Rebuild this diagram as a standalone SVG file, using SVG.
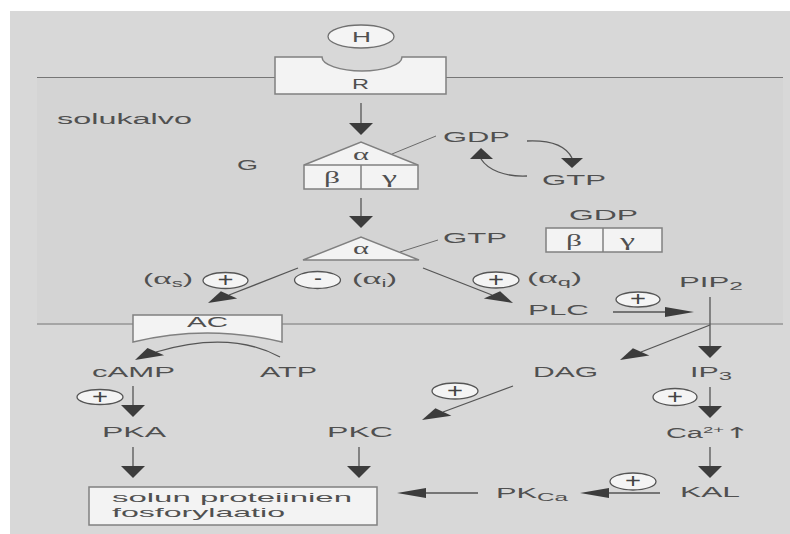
<svg xmlns="http://www.w3.org/2000/svg" width="790" height="534" viewBox="0 0 790 534">
<style>
text{font-family:"Liberation Sans",Arial,sans-serif;font-size:14px;fill:#505050}
.gr{font-family:"Liberation Serif","DejaVu Serif",serif;font-size:16px}
.shape{fill:#f3f3f3;stroke:#808080;stroke-width:1.5}
.mem{stroke:#767676;stroke-width:1;fill:none}
.ln{stroke:#555;stroke-width:1.3;fill:none}
.thin{stroke:#6a6a6a;stroke-width:1;fill:none}
.ah{fill:#3c3c3c;stroke:none}
.op{fill:#f4f4f4;stroke:#555;stroke-width:1.3}
.sign{font-size:20px;fill:#444;text-anchor:middle}
.box{font-size:13px}
</style>
<rect x="0" y="0" width="790" height="534" fill="#ffffff"/>
<rect x="10" y="11" width="780" height="523" fill="#d8d8d8"/>
<rect x="37" y="78" width="746" height="247" fill="#d4d4d4"/>
<g id="membrane">
<line class="mem" x1="37" y1="77.5" x2="275" y2="77.5"/>
<line class="mem" x1="446" y1="77.5" x2="783" y2="77.5"/>
<line class="mem" x1="37" y1="324" x2="133" y2="324"/>
<line class="mem" x1="282" y1="324" x2="783" y2="324"/>
</g>
<text x="57" y="124" textLength="135" lengthAdjust="spacingAndGlyphs">solukalvo</text>
<g id="connectors">
<line class="ln" x1="361" y1="103" x2="361" y2="123"/><polygon class="ah" points="349,123 373,123 361,135"/>
<line class="ln" x1="361" y1="198" x2="361" y2="216"/><polygon class="ah" points="349,216 373,216 361,228"/>
<line class="thin" x1="392" y1="154" x2="436" y2="136"/>
<line class="thin" x1="400" y1="252" x2="438" y2="240"/>
<path class="ln" d="M527,141 C550,140 566,146 572,158"/><polygon class="ah" points="561,158 583,158 572,168"/>
<path class="ln" d="M527,176 C505,177 488,170 481,159"/><polygon class="ah" points="470,159 493,159 481,148"/>
<line class="ln" x1="298" y1="268" x2="229" y2="295"/><polygon class="ah" points="208,303 237.2,298.5 220.9,291.2"/>
<line class="ln" x1="423" y1="268" x2="492" y2="295"/><polygon class="ah" points="513,303 483.8,298.5 500.1,291.2"/>
<line class="ln" x1="613" y1="312" x2="666" y2="312"/><polygon class="ah" points="665,307 665,317 694,312"/>
<line class="ln" x1="710" y1="297" x2="710" y2="346"/><polygon class="ah" points="698,346 722,346 710,358"/>
<line class="ln" x1="710" y1="325" x2="641" y2="352"/><polygon class="ah" points="620,360 649.3,355.5 632.9,348.2"/>
<path class="ln" d="M280,357 Q230,330 156,352"/><polygon class="ah" points="135,360 164.1,355.3 147.5,348.1"/>
<line class="ln" x1="133" y1="386" x2="133" y2="405"/><polygon class="ah" points="121,405 145,405 133,417"/>
<line class="ln" x1="513" y1="386" x2="443" y2="412"/><polygon class="ah" points="422,420 451.4,415.7 435.4,408.3"/>
<line class="ln" x1="710" y1="387" x2="710" y2="406"/><polygon class="ah" points="698,406 722,406 710,418"/>
<line class="ln" x1="710" y1="447" x2="710" y2="466"/><polygon class="ah" points="698,466 722,466 710,478"/>
<line class="ln" x1="133" y1="447" x2="133" y2="466"/><polygon class="ah" points="121,466 145,466 133,478"/>
<line class="ln" x1="359" y1="447" x2="359" y2="466"/><polygon class="ah" points="347,466 371,466 359,478"/>
<line class="ln" x1="660" y1="493" x2="608" y2="493"/><polygon class="ah" points="609,488 609,498 580,493"/>
<line class="ln" x1="478" y1="493" x2="425" y2="493"/><polygon class="ah" points="426,488 426,498 397,493"/>
</g>
<g id="H">
<ellipse class="op" cx="361" cy="36.5" rx="33" ry="11.5" style="stroke:#707070"/>
<text x="352" y="42" font-size="15" textLength="19" lengthAdjust="spacingAndGlyphs">H</text>
</g>
<g id="R">
<path class="shape" d="M275,57 H322 A40,14 0 0 0 402,57 H446 V94 H275 Z"/>
<text x="352" y="89" font-size="16" textLength="17" lengthAdjust="spacingAndGlyphs">R</text>
</g>
<g id="G">
<text x="237" y="170" textLength="21" lengthAdjust="spacingAndGlyphs">G</text>
<polygon class="shape" points="304,165 361,142 418,165 418,189 304,189"/>
<line class="shape" x1="304" y1="165" x2="418" y2="165"/>
<line class="shape" x1="361" y1="165" x2="361" y2="189"/>
<text class="gr" x="353" y="160" textLength="16" lengthAdjust="spacingAndGlyphs">α</text>
<text class="gr" x="324" y="183" textLength="16" lengthAdjust="spacingAndGlyphs">β</text>
<text class="gr" x="382" y="183" textLength="15" lengthAdjust="spacingAndGlyphs">γ</text>
</g>
<g id="GDP1"><text x="443" y="142" textLength="67" lengthAdjust="spacingAndGlyphs">GDP</text></g>
<g id="GTP1"><text x="542" y="185" textLength="64" lengthAdjust="spacingAndGlyphs">GTP</text></g>
<g id="GDP2"><text x="569" y="220" textLength="69" lengthAdjust="spacingAndGlyphs">GDP</text></g>
<g id="betagamma">
<rect class="shape" x="546" y="228" width="116" height="24"/>
<line class="shape" x1="603" y1="228" x2="603" y2="252"/>
<text class="gr" x="566" y="246" textLength="16" lengthAdjust="spacingAndGlyphs">β</text>
<text class="gr" x="620" y="246" textLength="15" lengthAdjust="spacingAndGlyphs">γ</text>
</g>
<g id="alpha">
<polygon class="shape" points="303,260 361,237 419,260"/>
<text class="gr" x="353" y="254" textLength="16" lengthAdjust="spacingAndGlyphs">α</text>
</g>
<g id="GTP2"><text x="443" y="243" textLength="64" lengthAdjust="spacingAndGlyphs">GTP</text></g>
<g id="alphas"><text x="143" y="284" textLength="50" lengthAdjust="spacingAndGlyphs">(<tspan class="gr">α</tspan><tspan font-size="10" dy="3">s</tspan><tspan dy="-3">)</tspan></text></g>
<g id="alphai"><text x="352" y="284" textLength="45" lengthAdjust="spacingAndGlyphs">(<tspan class="gr">α</tspan><tspan font-size="10" dy="3">i</tspan><tspan dy="-3">)</tspan></text></g>
<g id="alphaq"><text x="527" y="283" textLength="55" lengthAdjust="spacingAndGlyphs">(<tspan class="gr">α</tspan><tspan font-size="10" dy="3">q</tspan><tspan dy="-3">)</tspan></text></g>
<g id="op1"><ellipse class="op" cx="225.5" cy="280.5" rx="22.5" ry="8"/><text class="sign" x="225.5" y="287" textLength="16" lengthAdjust="spacingAndGlyphs">+</text></g>
<g id="op2"><ellipse class="op" cx="317.5" cy="280" rx="23" ry="8.5"/><text class="sign" x="318" y="285" textLength="8" lengthAdjust="spacingAndGlyphs">-</text></g>
<g id="op3"><ellipse class="op" cx="496" cy="280" rx="23" ry="8"/><text class="sign" x="496" y="286.5" textLength="16" lengthAdjust="spacingAndGlyphs">+</text></g>
<g id="op4"><ellipse class="op" cx="638" cy="299.5" rx="22" ry="7.5"/><text class="sign" x="638" y="306" textLength="16" lengthAdjust="spacingAndGlyphs">+</text></g>
<g id="op5"><ellipse class="op" cx="455" cy="391" rx="23" ry="8"/><text class="sign" x="455" y="397.5" textLength="16" lengthAdjust="spacingAndGlyphs">+</text></g>
<g id="op6"><ellipse class="op" cx="675" cy="397" rx="22" ry="8.5"/><text class="sign" x="675" y="403.5" textLength="16" lengthAdjust="spacingAndGlyphs">+</text></g>
<g id="op7"><ellipse class="op" cx="633" cy="481.5" rx="23" ry="8.5"/><text class="sign" x="633" y="488" textLength="16" lengthAdjust="spacingAndGlyphs">+</text></g>
<g id="op8"><ellipse class="op" cx="100" cy="397" rx="23" ry="7.5"/><text class="sign" x="100" y="403.5" textLength="16" lengthAdjust="spacingAndGlyphs">+</text></g>
<g id="PLC"><text x="528" y="315" textLength="61" lengthAdjust="spacingAndGlyphs">PLC</text></g>
<g id="PIP2"><text x="679" y="287" textLength="64" lengthAdjust="spacingAndGlyphs">PIP<tspan font-size="11" dy="3">2</tspan></text></g>
<g id="AC">
<path class="shape" d="M133,315 H282 V342 Q207,324 133,342 Z"/>
<text x="187" y="327" textLength="41" lengthAdjust="spacingAndGlyphs">AC</text>
</g>
<g id="cAMP"><text x="92" y="377" textLength="83" lengthAdjust="spacingAndGlyphs">cAMP</text></g>
<g id="ATP"><text x="260" y="377" textLength="57" lengthAdjust="spacingAndGlyphs">ATP</text></g>
<g id="DAG"><text x="533" y="377" textLength="65" lengthAdjust="spacingAndGlyphs">DAG</text></g>
<g id="IP3"><text x="690" y="377" textLength="42" lengthAdjust="spacingAndGlyphs">IP<tspan font-size="11" dy="3">3</tspan></text></g>
<g id="PKA"><text x="102" y="437" textLength="64" lengthAdjust="spacingAndGlyphs">PKA</text></g>
<g id="PKC"><text x="327" y="437" textLength="66" lengthAdjust="spacingAndGlyphs">PKC</text></g>
<g id="Ca"><text x="666" y="438" textLength="84" lengthAdjust="spacingAndGlyphs">Ca<tspan font-size="9" dy="-5">2+</tspan><tspan dy="5" font-family="'DejaVu Sans',sans-serif" font-size="15">↑</tspan></text></g>
<g id="KAL"><text x="680" y="497" textLength="60" lengthAdjust="spacingAndGlyphs">KAL</text></g>
<g id="PKCa"><text x="496" y="498" textLength="72" lengthAdjust="spacingAndGlyphs">PK<tspan font-size="11" dy="3">Ca</tspan></text></g>
<g id="fosforylaatio">
<rect class="shape" x="89" y="487" width="288" height="38"/>
<text class="box" x="112" y="502" textLength="240" lengthAdjust="spacingAndGlyphs">solun proteiinien</text>
<text class="box" x="112" y="517" textLength="173" lengthAdjust="spacingAndGlyphs">fosforylaatio</text>
</g>
</svg>
